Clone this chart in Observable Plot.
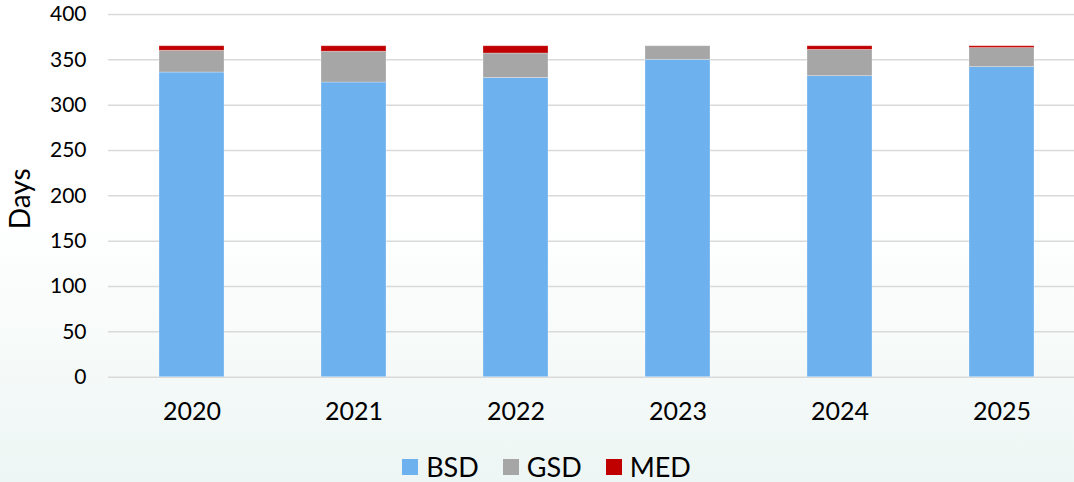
<!DOCTYPE html>
<html>
<head>
<meta charset="utf-8">
<script src="https://cdn.jsdelivr.net/npm/d3@7"></script>
<script src="https://cdn.jsdelivr.net/npm/@observablehq/plot@0.6"></script>
<style>
  html, body { margin: 0; padding: 0; }
  body {
    width: 1074px; height: 482px; overflow: hidden;
    background: linear-gradient(to bottom, #ffffff 0%, #ffffff 45%, #edf6f4 100%);
    font-family: Lato, "Open Sans", sans-serif;
  }
  #chart svg { display: block; }
  #legend { box-sizing: border-box; display: flex; justify-content: center; align-items: flex-start; gap: 24px; height: 36px; padding-top: 7px; font-size: 27px; line-height: 1; color: #000; padding-left: 19px; }
  #legend .item { display: flex; align-items: center; gap: 8px; height: 27px; }
  #legend .sw { width: 16px; height: 16px; display: inline-block; }
</style>
</head>
<body>
<div id="chart"></div>
<div id="legend"></div>
<script>
const years = ["2020", "2021", "2022", "2023", "2024", "2025"];
const seriesNames = ["BSD", "GSD", "MED"];
const bsd = [336, 325, 330, 350, 332, 342];
const gsd = [24, 34, 27, 15, 29, 21];
const med = [5, 6, 8, 0, 4, 2];
const colors = ["#6db1ee", "#a6a6a6", "#c00000"];
const yTicks = [0, 50, 100, 150, 200, 250, 300, 350, 400];

const values = [bsd, gsd, med];
const rows = [];
seriesNames.forEach((s, si) => years.forEach((y, i) => rows.push({year: y, series: s, value: values[si][i]})));

const chart = Plot.plot({
  width: 1074,
  height: 446,
  marginTop: 14,
  marginBottom: 69.3,
  marginLeft: 108,
  marginRight: 0,
  style: {fontFamily: "Lato, sans-serif", fontSize: "21px", color: "#000", background: "transparent"},
  x: {domain: years, range: [108.3, 1083.9], paddingInner: 0.6, paddingOuter: 0.3, label: null},
  y: {domain: [0, 400], ticks: yTicks, label: null},
  color: {domain: seriesNames, range: colors},
  marks: [
    Plot.gridY(yTicks, {stroke: "#d9d9d9", strokeOpacity: 1, strokeWidth: 1.5}),
    Plot.barY(rows, {x: "year", y: "value", fill: "series", order: seriesNames, stroke: "white", strokeOpacity: 0.35, strokeWidth: 0.8}),
    Plot.axisY({ticks: yTicks, tickSize: 0, tickPadding: 22, fontSize: 21}),
    Plot.axisX({tickSize: 0, tickPadding: 25, fontSize: 25}),
    Plot.text(["Days"], {frameAnchor: "left", textAnchor: "middle", dx: -87, dy: 3, rotate: -90, fontSize: 28, fill: "#000"})
  ]
});
document.getElementById("chart").appendChild(chart);

const legend = document.getElementById("legend");
seriesNames.forEach((s, i) => {
  const it = document.createElement("div");
  it.className = "item";
  const sw = document.createElement("span");
  sw.className = "sw";
  sw.style.background = colors[i];
  const t = document.createElement("span");
  t.textContent = s;
  it.appendChild(sw); it.appendChild(t);
  legend.appendChild(it);
});
</script>
</body>
</html>
